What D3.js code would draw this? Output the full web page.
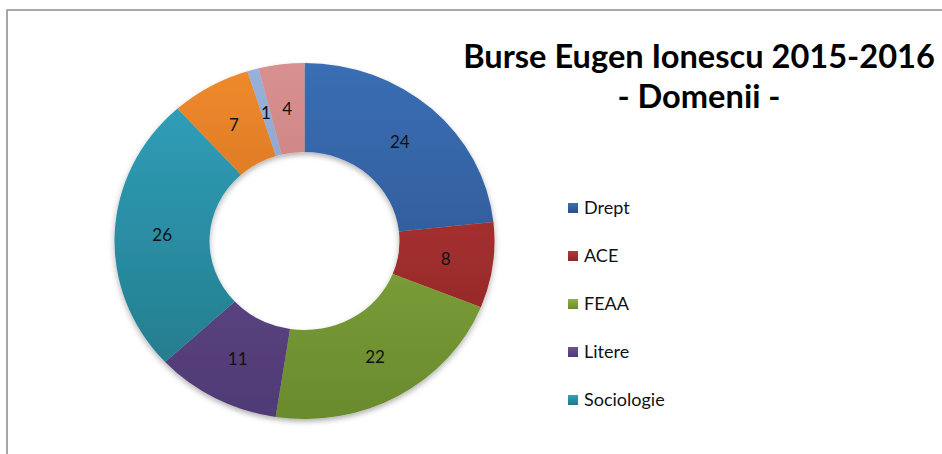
<!DOCTYPE html>
<html>
<head>
<meta charset="utf-8">
<script src="https://cdn.jsdelivr.net/npm/d3@7"></script>
<style>
  body { margin: 0; background: #fff; }
  svg { display: block; }
</style>
</head>
<body>
<div id="chart"></div>
<script>
var width = 942,
  height = 454;

// data (legend only shows the first 5 names)
var categories = ["Drept", "ACE", "FEAA", "Litere", "Sociologie", "Istorie", "Teologie", "Filosofie"];
var values = [24, 8, 22, 11, 26, 7, 1, 4];
var colorsTop = ["#3a6eb4", "#b83636", "#8fb444", "#6d5297", "#31a3be", "#f08a2c", "#98b2dc", "#d99190"];
var colorsBottom = ["#2a4f86", "#8a2626", "#6a8a2e", "#4f3a74", "#227686", "#bb601a", "#7a92bb", "#b06f6e"];
var legendShown = 5;
var titleLines = ["Burse Eugen Ionescu 2015-2016", "- Domenii -"];

var cx = 304.5,
  cy = 241,
  outerR = 190,
  innerR = 95,
  squash = 0.937;

var svg = d3.select("#chart")
  .append("svg")
  .attr("width", width)
  .attr("height", height);

// chart area frame (only top and left edges are visible)
svg.append("rect")
  .attr("x", 7)
  .attr("y", 10)
  .attr("width", 1000)
  .attr("height", 500)
  .attr("fill", "none")
  .attr("stroke", "#8c8c8c")
  .attr("stroke-width", 1.5);

var defs = svg.append("defs");

var shadow = defs.append("filter")
  .attr("id", "shadow")
  .attr("x", "-10%")
  .attr("y", "-10%")
  .attr("width", "120%")
  .attr("height", "125%");
shadow.append("feDropShadow")
  .attr("dx", 0)
  .attr("dy", 3)
  .attr("stdDeviation", 3)
  .attr("flood-color", "#000")
  .attr("flood-opacity", 0.3);

values.forEach(function(v, i) {
  var g = defs.append("linearGradient")
    .attr("id", "grad" + i)
    .attr("gradientUnits", "userSpaceOnUse")
    .attr("x1", 0).attr("y1", -outerR)
    .attr("x2", 0).attr("y2", outerR);
  g.append("stop").attr("offset", "0%").attr("stop-color", colorsTop[i]);
  g.append("stop").attr("offset", "100%").attr("stop-color", colorsBottom[i]);
});

var pie = d3.pie()
  .sort(null)
  .value(function(d) { return d; });

var arc = d3.arc()
  .innerRadius(innerR)
  .outerRadius(outerR);

var arcs = pie(values);

var donut = svg.append("g")
  .attr("transform", "translate(" + cx + "," + cy + ") scale(1," + squash + ")")
  .attr("filter", "url(#shadow)");

donut.selectAll("path")
  .data(arcs)
  .enter().append("path")
  .attr("d", arc)
  .attr("fill", function(d, i) { return "url(#grad" + i + ")"; });

svg.append("g")
  .selectAll("text")
  .data(arcs)
  .enter().append("text")
  .attr("x", function(d) { return cx + arc.centroid(d)[0]; })
  .attr("y", function(d) { return cy + arc.centroid(d)[1] * squash; })
  .attr("dy", "0.36em")
  .style("text-anchor", "middle")
  .attr("font-family", "Lato, 'Open Sans', sans-serif")
  .attr("font-size", "17px")
  .attr("fill", "#111")
  .text(function(d) { return d.data; });

// title
var title = svg.append("g");
title.selectAll("text")
  .data(titleLines)
  .enter().append("text")
  .attr("x", 699)
  .attr("y", function(d, i) { return 68 + i * 40; })
  .style("text-anchor", "middle")
  .attr("font-family", "Lato, 'Open Sans', sans-serif")
  .attr("font-weight", "700")
  .attr("font-size", "31px")
  .attr("fill", "#000")
  .text(function(d) { return d; });

// fit first title line to its width in the picture
var t0 = title.select("text").node();
var w0 = t0.getComputedTextLength();
var fs = 31 * 472 / w0;
title.selectAll("text").attr("font-size", fs + "px");

// legend
categories.slice(0, legendShown).forEach(function(c, i) {
  var g = defs.append("linearGradient")
    .attr("id", "lgrad" + i)
    .attr("x1", 0).attr("y1", 0)
    .attr("x2", 0).attr("y2", 1);
  g.append("stop").attr("offset", "0%").attr("stop-color", colorsTop[i]);
  g.append("stop").attr("offset", "100%").attr("stop-color", colorsBottom[i]);
});

var legendY = d3.scaleLinear()
  .domain([0, legendShown - 1])
  .range([208, 400]);

var legend = svg.append("g")
  .selectAll("g")
  .data(categories.slice(0, legendShown))
  .enter().append("g")
  .attr("transform", function(d, i) { return "translate(568," + legendY(i) + ")"; });

legend.append("rect")
  .attr("x", 0)
  .attr("y", -5)
  .attr("width", 10)
  .attr("height", 10)
  .attr("fill", function(d, i) { return "url(#lgrad" + i + ")"; });

legend.append("text")
  .attr("x", 16)
  .attr("dy", "0.36em")
  .attr("font-family", "Lato, 'Open Sans', sans-serif")
  .attr("font-size", "18px")
  .attr("fill", "#111")
  .text(function(d) { return d; });
</script>
</body>
</html>
